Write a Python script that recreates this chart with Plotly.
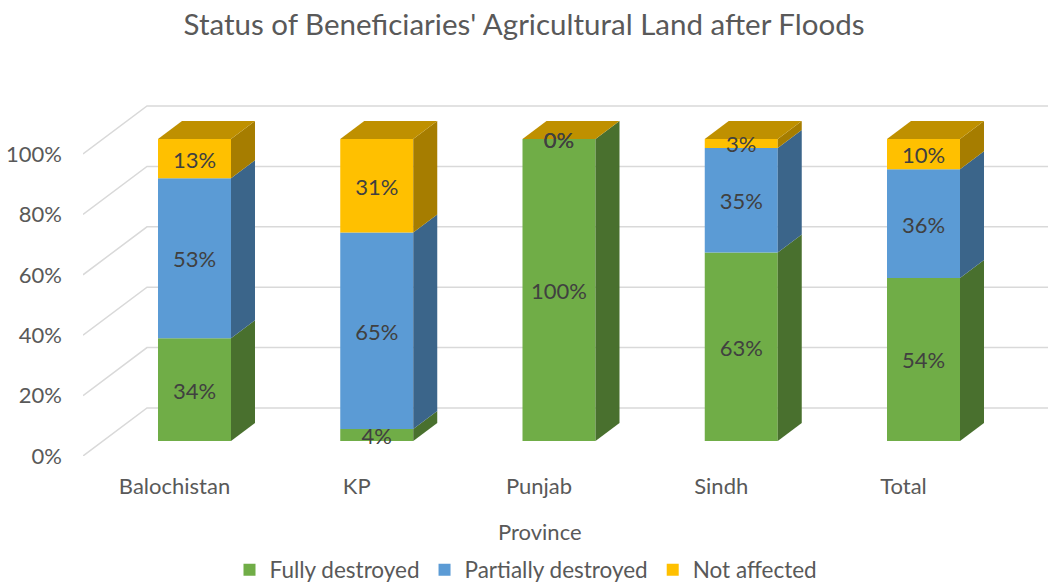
import plotly.graph_objects as go

# ---- data ----
provinces = ["Balochistan", "KP", "Punjab", "Sindh", "Total"]
fully_destroyed = [34, 4, 100, 63, 54]
partially_destroyed = [53, 65, 0, 35, 36]
not_affected = [13, 31, 0, 3, 10]
series_names = ["Fully destroyed", "Partially destroyed", "Not affected"]
y_ticks = [0, 20, 40, 60, 80, 100]
y_tick_labels = ["0%", "20%", "40%", "60%", "80%", "100%"]

# ---- styling / geometry ----
front_cols = ["#70AD47", "#5B9BD5", "#FFC000"]
side_cols = ["#49702E", "#3B658A", "#A67D00"]
top_col = "#BF9000"
FONT = "Lato"
GRAY = "#595959"
LABEL = "#404040"

PX_CAT = 182.25   # px per category
PX_PCT = 3.02     # px per percent
DX_FULL = 64 / PX_CAT
DY_FULL = 48 / PX_PCT
D_FRONT = 0.3125
D_SPAN = 0.375
BAR_W = 73 / PX_CAT
LABEL_DY = -3.5 / PX_PCT

fx = DX_FULL * D_FRONT
fy = DY_FULL * D_FRONT
sx = DX_FULL * D_SPAN
sy = DY_FULL * D_SPAN

L, R, T, B = 83, 0, 90, 128
W, H = 1048, 584
x_left = (L - 174.5) / PX_CAT
x_right = x_left + (W - L - R) / PX_CAT
y_top = (H - T - B) / PX_PCT

series = [fully_destroyed, partially_destroyed, not_affected]
n = len(provinces)
totals = [sum(s[i] for s in series) for i in range(n)]
norm = [[s[i] / totals[i] * 100 for i in range(n)] for s in series]

fig = go.Figure()

# gridlines (side wall + back wall), drawn below the bars
shapes = []
for v in y_ticks:
    shapes.append(dict(type="path", xref="x", yref="y", layer="below",
                       path=f"M{x_left},{v} L{x_left + DX_FULL},{v + DY_FULL} L{x_right},{v + DY_FULL}",
                       line=dict(color="#D9D9D9", width=1.5)))

xc = [i + fx for i in range(n)]

# front faces
bases = [[0.0] * n]
for k in range(1, 3):
    bases.append([bases[k - 1][i] + norm[k - 1][i] for i in range(n)])

for k in range(3):
    fig.add_trace(go.Bar(
        x=xc, y=norm[k], base=[b + fy for b in bases[k]], width=BAR_W,
        marker=dict(color=front_cols[k], line=dict(width=0)),
        name=series_names[k], hoverinfo="skip"))

# side faces
for k in range(3):
    for i in range(n):
        h = norm[k][i]
        if h <= 0:
            continue
        xr = xc[i] + BAR_W / 2
        y0 = bases[k][i] + fy
        y1 = y0 + h
        fig.add_trace(go.Scatter(
            x=[xr, xr + sx, xr + sx, xr, xr], y=[y0, y0 + sy, y1 + sy, y1, y0],
            mode="lines", fill="toself", fillcolor=side_cols[k],
            line=dict(width=0, color=side_cols[k]), hoverinfo="skip", showlegend=False))

# top faces
for i in range(n):
    xl = xc[i] - BAR_W / 2
    xr = xc[i] + BAR_W / 2
    yt = bases[2][i] + norm[2][i] + fy
    fig.add_trace(go.Scatter(
        x=[xl, xr, xr + sx, xl + sx, xl], y=[yt, yt, yt + sy, yt + sy, yt],
        mode="lines", fill="toself", fillcolor=top_col,
        line=dict(width=0, color=top_col), hoverinfo="skip", showlegend=False))

# data labels
for k in range(3):
    fig.add_trace(go.Scatter(
        x=xc, y=[bases[k][i] + norm[k][i] / 2 + fy + LABEL_DY for i in range(n)],
        mode="text", text=[f"{v}%" for v in series[k]],
        textfont=dict(family=FONT, size=22, color=LABEL),
        hoverinfo="skip", showlegend=False, cliponaxis=False))

fig.update_layout(
    width=W, height=H,
    margin=dict(l=L, r=R, t=T, b=B, autoexpand=False),
    paper_bgcolor="white", plot_bgcolor="white",
    barmode="overlay",
    shapes=shapes,
    title=dict(text="Status of Beneficiaries' Agricultural Land after Floods",
               x=0.5, xref="container", xanchor="center",
               y=1 - 25 / H, yref="container", yanchor="middle",
               font=dict(family=FONT, size=29.5, color=GRAY)),
    xaxis=dict(range=[x_left, x_right], tickmode="array",
               tickvals=list(range(n)), ticktext=provinces,
               showgrid=False, zeroline=False, showline=False, ticks="",
               ticklabelstandoff=15, automargin=False,
               tickfont=dict(family=FONT, size=22, color=GRAY)),
    yaxis=dict(range=[0, y_top], tickmode="array", tickvals=y_ticks, ticktext=y_tick_labels,
               showgrid=False, zeroline=False, showline=False, ticks="",
               ticklabelstandoff=20, automargin=False,
               tickfont=dict(family=FONT, size=22, color=GRAY)),
    legend=dict(orientation="h", x=(526 - L) / (W - L - R), xanchor="center",
                y=(456 - 570) / (H - T - B), yanchor="middle",
                font=dict(family=FONT, size=22.5, color=GRAY)),
    annotations=[dict(text="Province", xref="paper", yref="paper",
                      x=(540 - L) / (W - L - R), y=(456 - 531) / (H - T - B),
                      xanchor="center", yanchor="middle", showarrow=False,
                      font=dict(family=FONT, size=22, color=GRAY))],
)

fig.write_html("out.html", config={"displayModeBar": False},
               post_script="document.body.style.margin='0';")
